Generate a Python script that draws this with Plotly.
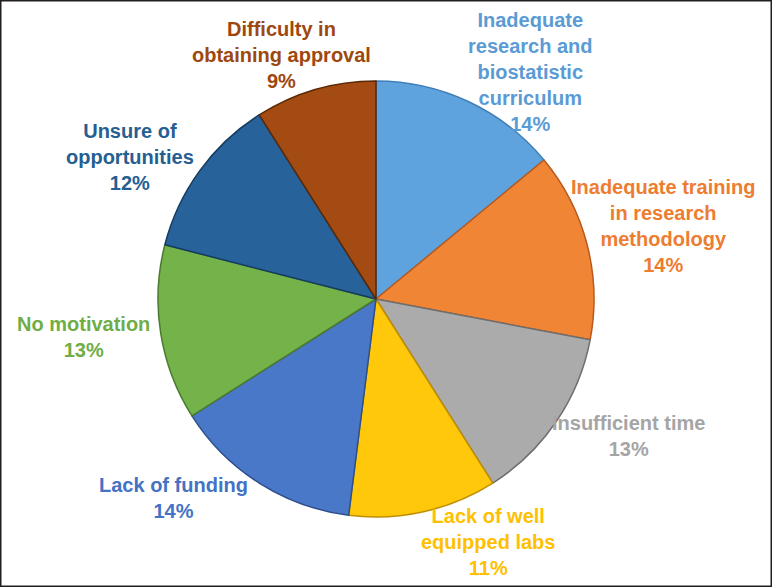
import plotly.graph_objects as go

categories = [
    "Inadequate<br>research and<br>biostatistic<br>curriculum",
    "Inadequate training<br>in research<br>methodology",
    "Insufficient time",
    "Lack of well<br>equipped labs",
    "Lack of funding",
    "No motivation",
    "Unsure of<br>opportunities",
    "Difficulty in<br>obtaining approval",
]
values = [14, 14, 13, 11, 14, 13, 12, 9]
colors = ["#5FA3DE", "#F08536", "#ABABAB", "#FFC80A", "#4A78C8", "#74B24A", "#27629A", "#A34B12"]
edge_colors = ["#3F7FB8", "#B85A1C", "#6E6E6E", "#C08F00", "#2E4F8C", "#4C7A2E", "#163C60", "#5A2806"]
text_colors = ["#5B9BD5", "#ED7D31", "#A5A5A5", "#FFC000", "#4472C4", "#70AD47", "#255E91", "#9E480E"]

# label block centres (paper fractions of 772x587)
label_x = [530 / 772, 663 / 772, 628 / 772, 488 / 772, 173 / 772, 83 / 772, 130 / 772, 281 / 772]
label_y = [1 - 72 / 587, 1 - 226 / 587, 1 - 436 / 587, 1 - 542 / 587, 1 - 498 / 587, 1 - 337 / 587, 1 - 157 / 587, 1 - 55 / 587]

W, H = 772, 587
cx, cy, r = 376, 299, 218

fig = go.Figure()
fig.add_trace(go.Pie(
    labels=[c.replace("<br>", " ") for c in categories],
    values=values,
    sort=False,
    direction="clockwise",
    rotation=0,
    textinfo="none",
    hoverinfo="label+percent",
    marker=dict(colors=colors, line=dict(color=edge_colors, width=1.5)),
    domain=dict(x=[(cx - r) / W, (cx + r) / W], y=[1 - (cy + r) / H, 1 - (cy - r) / H]),
    showlegend=False,
))

for cat, v, x, y, tc in zip(categories, values, label_x, label_y, text_colors):
    fig.add_annotation(
        x=x, y=y, xref="paper", yref="paper",
        text=f"<b>{cat}<br>{v}%</b>",
        showarrow=False, xanchor="center", yanchor="middle", align="center",
        font=dict(family="Liberation Sans, Arial, sans-serif", size=20, color=tc),
    )

fig.add_shape(type="rect", xref="paper", yref="paper", x0=0, y0=0, x1=1, y1=1,
              line=dict(color="#231F20", width=3))

fig.update_layout(
    width=W, height=H,
    margin=dict(l=0, r=0, t=0, b=0),
    paper_bgcolor="white",
    plot_bgcolor="white",
    font=dict(family="Liberation Sans, Arial, sans-serif"),
)

fig.write_html("out.html", config={"displayModeBar": False},
               post_script="document.body.style.margin='0';document.body.style.overflow='hidden';")
